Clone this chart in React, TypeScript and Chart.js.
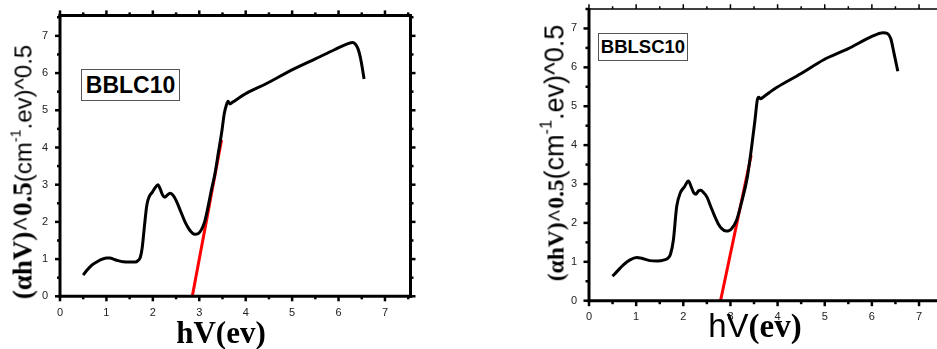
import React, { useEffect, useRef } from "react";
import { Chart, registerables } from "chart.js";

Chart.register(...registerables);

// ---------- data ----------
const xTickLabels = ["0", "1", "2", "3", "4", "5", "6", "7"];
const yTickLabels = ["0", "1", "2", "3", "4", "5", "6", "7"];

const leftX = [0.5, 0.58, 0.68, 0.79, 0.86, 1.0, 1.08, 1.15, 1.25, 1.36, 1.5, 1.62, 1.68, 1.73, 1.77, 1.82, 1.87, 1.93, 1.99, 2.05, 2.11, 2.16, 2.21, 2.26, 2.31, 2.37, 2.43, 2.5, 2.6, 2.7, 2.8, 2.9, 2.98, 3.05, 3.12, 3.19, 3.26, 3.34, 3.41, 3.48, 3.54, 3.58, 3.62, 3.66, 3.72, 4.02, 4.45, 5.02, 5.5, 5.9, 6.22, 6.3, 6.36, 6.42, 6.47, 6.51, 6.55];
const leftY = [0.57, 0.7, 0.83, 0.92, 0.97, 1.03, 1.03, 1.0, 0.96, 0.93, 0.92, 0.92, 0.96, 1.05, 1.3, 1.9, 2.45, 2.7, 2.8, 2.92, 3.0, 2.88, 2.72, 2.66, 2.72, 2.77, 2.72, 2.58, 2.28, 1.98, 1.77, 1.67, 1.69, 1.8, 2.02, 2.41, 2.85, 3.31, 3.85, 4.38, 4.92, 5.12, 5.24, 5.17, 5.22, 5.46, 5.72, 6.1, 6.38, 6.62, 6.8, 6.82, 6.78, 6.65, 6.42, 6.15, 5.84];
const leftFitX = [2.85, 3.48];
const leftFitY = [0, 4.2];

const rightX = [0.5, 0.6, 0.73, 0.87, 1.01, 1.12, 1.29, 1.45, 1.6, 1.68, 1.73, 1.79, 1.86, 1.94, 2.02, 2.11, 2.17, 2.22, 2.27, 2.32, 2.37, 2.43, 2.5, 2.58, 2.67, 2.74, 2.81, 2.91, 2.97, 3.03, 3.13, 3.24, 3.36, 3.45, 3.52, 3.57, 3.6, 3.64, 3.7, 3.98, 4.5, 4.97, 5.5, 5.96, 6.24, 6.33, 6.4, 6.47, 6.55];
const rightY = [0.63, 0.76, 0.92, 1.05, 1.11, 1.09, 1.03, 1.02, 1.05, 1.1, 1.2, 1.56, 2.42, 2.78, 2.92, 3.08, 2.92, 2.78, 2.74, 2.82, 2.84, 2.78, 2.67, 2.43, 2.16, 1.98, 1.86, 1.79, 1.8, 1.86, 2.07, 2.55, 3.19, 3.96, 4.64, 5.16, 5.23, 5.19, 5.24, 5.48, 5.84, 6.19, 6.48, 6.77, 6.89, 6.87, 6.74, 6.36, 5.9];
const rightFitX = [2.79, 3.44];
const rightFitY = [0, 3.74];

const zip = (xs: number[], ys: number[]) => xs.map((x, i) => ({ x, y: ys[i] }));

// ---------- frame plugin (border + outward ticks on all sides) ----------
const framePlugin = {
  id: "frame",
  afterDatasetsDraw(chart: any, _args: any, opts: any) {
    const { ctx, chartArea: a, scales } = chart;
    const xs = scales.x;
    const ys = scales.y;
    const s = opts.sides;
    const tw = opts.tickWidths;
    ctx.save();
    ctx.strokeStyle = "#000";
    ctx.lineCap = "butt";
    const line = (x1: number, y1: number, x2: number, y2: number, w: number) => {
      if (w <= 0) return;
      ctx.lineWidth = w;
      ctx.beginPath();
      ctx.moveTo(x1, y1);
      ctx.lineTo(x2, y2);
      ctx.stroke();
    };
    for (let v = xs.min; v <= xs.max + 1e-9; v += 0.5) {
      const p = xs.getPixelForValue(v);
      const major = Math.abs(v - Math.round(v)) < 1e-6;
      const len = major ? opts.major : opts.minor;
      line(p, a.bottom, p, a.bottom + s.bottom / 2 + len, tw.bottom);
      line(p, a.top, p, a.top - s.top / 2 - len, tw.top);
    }
    for (let v = ys.min; v <= ys.max + 1e-9; v += 0.5) {
      const p = ys.getPixelForValue(v);
      const major = Math.abs(v - Math.round(v)) < 1e-6;
      const len = major ? opts.major : opts.minor;
      line(a.left, p, a.left - s.left / 2 - len, p, tw.left);
      line(a.right, p, a.right + s.right / 2 + len, p, tw.right);
    }
    const h = (w: number) => w / 2;
    line(a.left - h(s.left), a.top, a.right + h(s.right), a.top, s.top);
    line(a.left - h(s.left), a.bottom, a.right + h(s.right), a.bottom, s.bottom);
    line(a.left, a.top - h(s.top), a.left, a.bottom + h(s.bottom), s.left);
    line(a.right, a.top - h(s.top), a.right, a.bottom + h(s.bottom), s.right);
    ctx.restore();
  },
};

const tickFont = { family: '"Liberation Sans", Arial, sans-serif', size: 11 };

function makeConfig(p: {
  curveX: number[]; curveY: number[]; fitX: number[]; fitY: number[];
  xMax: number; yMax: number; yW: number; pad: { top: number; right: number; bottom: number };
  frame: any;
}): any {
  return {
    type: "line",
    data: {
      datasets: [
        {
          data: zip(p.curveX, p.curveY),
          borderColor: "#000",
          borderWidth: 3,
          pointRadius: 0,
          cubicInterpolationMode: "monotone",
          fill: false,
        },
        {
          data: zip(p.fitX, p.fitY),
          borderColor: "#ff0000",
          borderWidth: 3,
          pointRadius: 0,
          fill: false,
        },
      ],
    },
    options: {
      animation: false,
      responsive: false,
      events: [],
      layout: { padding: { left: 0, top: p.pad.top, right: p.pad.right, bottom: p.pad.bottom } },
      plugins: { legend: { display: false }, tooltip: { enabled: false }, frame: p.frame },
      scales: {
        x: {
          type: "linear",
          min: 0,
          max: p.xMax,
          grid: { display: false, drawTicks: false },
          border: { display: false },
          ticks: {
            stepSize: 1,
            includeBounds: false,
            padding: 10,
            color: "#222",
            font: tickFont,
            maxRotation: 0,
            autoSkip: false,
            callback: (v: number) => xTickLabels[v] ?? "",
          },
          afterFit: (sc: any) => {
            sc.height = 30;
            sc.paddingLeft = 0;
            sc.paddingRight = 0;
          },
        },
        y: {
          type: "linear",
          min: 0,
          max: p.yMax,
          grid: { display: false, drawTicks: false },
          border: { display: false },
          ticks: {
            stepSize: 1,
            includeBounds: false,
            padding: 12,
            color: "#222",
            font: tickFont,
            autoSkip: false,
            callback: (v: number) => yTickLabels[v] ?? "",
          },
          afterFit: (sc: any) => {
            sc.width = p.yW;
            sc.paddingTop = 0;
            sc.paddingBottom = 0;
          },
        },
      },
    },
    plugins: [framePlugin],
  };
}

const serif = '"Liberation Serif", "Times New Roman", serif';
const sans = '"Liberation Sans", Arial, sans-serif';

export default function App() {
  const leftRef = useRef<HTMLCanvasElement>(null);
  const rightRef = useRef<HTMLCanvasElement>(null);

  useEffect(() => {
    const c1 = new Chart(
      leftRef.current as HTMLCanvasElement,
      makeConfig({
        curveX: leftX, curveY: leftY, fitX: leftFitX, fitY: leftFitY,
        xMax: 7.55, yMax: 7.55, yW: 60,
        pad: { top: 15.4, right: 59.5, bottom: 22.7 },
        frame: {
          sides: { top: 3, right: 3, bottom: 3, left: 3 },
          tickWidths: { top: 2.5, right: 2.5, bottom: 2.5, left: 2.5 },
          major: 3.5, minor: 1.5,
        },
      })
    );
    const c2 = new Chart(
      rightRef.current as HTMLCanvasElement,
      makeConfig({
        curveX: rightX, curveY: rightY, fitX: rightFitX, fitY: rightFitY,
        xMax: 7.5, yMax: 7.5, yW: 119,
        pad: { top: 9, right: 7.4, bottom: 18.3 },
        frame: {
          sides: { top: 1.5, right: 3, bottom: 3, left: 3 },
          tickWidths: { top: 1.5, right: 2.5, bottom: 2.5, left: 2.5 },
          major: 4, minor: 2,
        },
      })
    );
    return () => { c1.destroy(); c2.destroy(); };
  }, []);

  const sup = { fontSize: "0.6em", position: "relative" as const, top: "-0.75em" };

  return (
    <div style={{ position: "absolute", left: 0, top: 0, width: 937, height: 349, overflow: "hidden", background: "#fff" }}>
      <canvas ref={leftRef} width={470} height={349} style={{ position: "absolute", left: 0, top: 0 }} />
      <canvas ref={rightRef} width={480} height={349} style={{ position: "absolute", left: 470, top: 0 }} />

      {/* left y title */}
      <div style={{ position: "absolute", left: 23, top: 171.5, transform: "translate(-50%,-50%) rotate(-90deg)", whiteSpace: "nowrap", lineHeight: 1, color: "#000" }}>
        <span style={{ fontFamily: serif, fontWeight: "bold", fontSize: 27 }}>(αhV)^0.5</span>
        <span style={{ fontFamily: sans, fontSize: 24 }}>(cm<span style={sup}>-1</span>.ev)^0.5</span>
      </div>
      {/* left x title */}
      <div style={{ position: "absolute", left: 221, top: 317, transform: "translateX(-50%)", fontFamily: serif, fontWeight: "bold", fontSize: 31, lineHeight: "31px", whiteSpace: "nowrap", color: "#000" }}>
        hV(ev)
      </div>
      {/* left label box */}
      <div style={{ position: "absolute", left: 81, top: 69, width: 99, height: 32, boxSizing: "border-box", border: "1px solid #555", display: "flex", alignItems: "center", justifyContent: "center", fontFamily: sans, fontWeight: "bold", fontSize: 23, color: "#000", background: "#fff" }}>
        BBLC10
      </div>

      {/* right y title */}
      <div style={{ position: "absolute", left: 555, top: 152.5, transform: "translate(-50%,-50%) rotate(-90deg)", whiteSpace: "nowrap", lineHeight: 1, color: "#000" }}>
        <span style={{ fontFamily: serif, fontWeight: "bold", fontSize: 23.5 }}>(αhV)^0.5</span>
        <span style={{ fontFamily: sans, fontSize: 27 }}>(cm<span style={sup}>-1</span>.ev)^0.5</span>
      </div>
      {/* right x title */}
      <div style={{ position: "absolute", left: 755, top: 309, transform: "translateX(-50%)", fontSize: 33, lineHeight: "33px", whiteSpace: "nowrap", color: "#000" }}>
        <span style={{ fontFamily: sans }}>hV</span>
        <span style={{ fontFamily: serif, fontWeight: "bold" }}>(ev)</span>
      </div>
      {/* right label box */}
      <div style={{ position: "absolute", left: 598, top: 33, width: 90, height: 28, boxSizing: "border-box", border: "1px solid #555", display: "flex", alignItems: "center", justifyContent: "center", fontFamily: sans, fontWeight: "bold", fontSize: 18.5, color: "#000", background: "#fff" }}>
        BBLSC10
      </div>
    </div>
  );
}
